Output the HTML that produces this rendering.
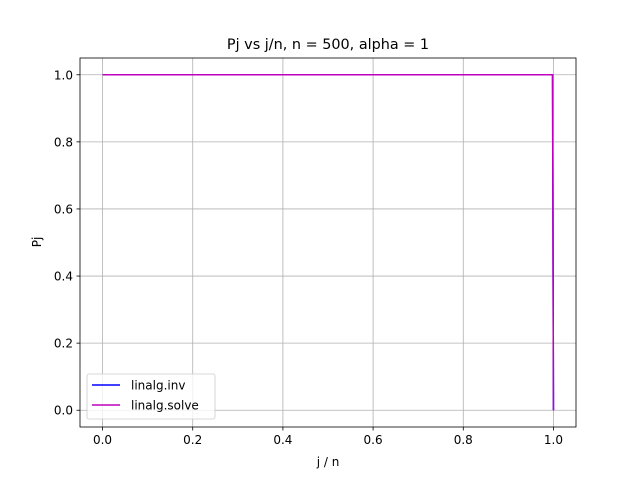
<!DOCTYPE html>
<html><head><meta charset="utf-8"><style>
body{margin:0;background:#fff;}
svg{display:block;font-family:"DejaVu Sans","Liberation Sans",sans-serif;}
</style></head><body>
<svg id="chart" width="640" height="480" viewBox="0 0 640 480">
<rect width="640" height="480" fill="#fff"/>
<text x="328" y="49" text-anchor="middle" font-size="14.4">Pj vs j/n, n = 500, alpha = 1</text>
<g id="grid"></g>
<g id="ticks" font-size="12"></g>
<g id="series"></g>
<rect x="80" y="58" width="496" height="369" fill="none" stroke="#000" stroke-width="0.8"/>
<text x="328" y="466" text-anchor="middle" font-size="12">j / n</text>
<text x="0" y="0" transform="translate(41,242) rotate(-90)" text-anchor="middle" font-size="12">Pj</text>
<g>
<rect x="87" y="374" width="128" height="45" rx="2" fill="#fff" fill-opacity="0.8" stroke="#ccc" stroke-width="0.8"/>
<line x1="92" y1="385" x2="120" y2="385" stroke="#0000ff" stroke-width="1.5"/>
<text x="131" y="389.5" font-size="12">linalg.inv</text>
<line x1="92" y1="405" x2="120" y2="405" stroke="#bf00bf" stroke-width="1.5"/>
<text x="131" y="409.5" font-size="12">linalg.solve</text>
</g>
</svg>
<script>
const xTicks=[0,0.2,0.4,0.6,0.8,1.0];
const yTicks=[0,0.2,0.4,0.6,0.8,1.0];
const xs=[0,0.998,1.0];
const invVals=[1,1,0];
const solveVals=[1,1,0];
const L=80,R=576,T=58,B=427,xmin=-0.05,xmax=1.05,ymin=-0.05,ymax=1.05;
const sx=v=>L+(v-xmin)/(xmax-xmin)*(R-L);
const sy=v=>B-(v-ymin)/(ymax-ymin)*(B-T);
const NS='http://www.w3.org/2000/svg';
const grid=document.getElementById('grid'),ticks=document.getElementById('ticks'),series=document.getElementById('series');
function mk(tag,attrs,parent){const e=document.createElementNS(NS,tag);for(const k in attrs)e.setAttribute(k,attrs[k]);parent.appendChild(e);return e;}
xTicks.forEach(v=>{const x=sx(v);
 const g=mk('line',{x1:x,x2:x,y1:T,y2:B,stroke:'#b0b0b0','stroke-width':0.8},grid);
 
 
 const t=mk('line',{x1:x,x2:x,y1:B,y2:B+3.5,stroke:'#000','stroke-width':0.8},ticks);
 
 
 const l=mk('text',{x:x,y:B+17,'text-anchor':'middle'},ticks);l.textContent=v.toFixed(1);
 
 
});
yTicks.forEach(v=>{const y=sy(v);
 const g=mk('line',{x1:L,x2:R,y1:y,y2:y,stroke:'#b0b0b0','stroke-width':0.8},grid);
 
 
 const t=mk('line',{x1:L-3.5,x2:L,y1:y,y2:y,stroke:'#000','stroke-width':0.8},ticks);
 
 
 const l=mk('text',{x:L-7,y:y+4.5,'text-anchor':'end'},ticks);l.textContent=v.toFixed(1);
 
 
});
function line(vals,color,name){
 const d=xs.map((x,i)=>(i?'L':'M')+sx(x)+','+sy(vals[i])).join(' ');
 const p=mk('path',{d:d,fill:'none',stroke:color,'stroke-width':1.5},series);
 
 
}
line(invVals,'#0000ff','series-linalg-inv');
line(solveVals,'#bf00bf','series-linalg-solve');
</script>
</body></html>
